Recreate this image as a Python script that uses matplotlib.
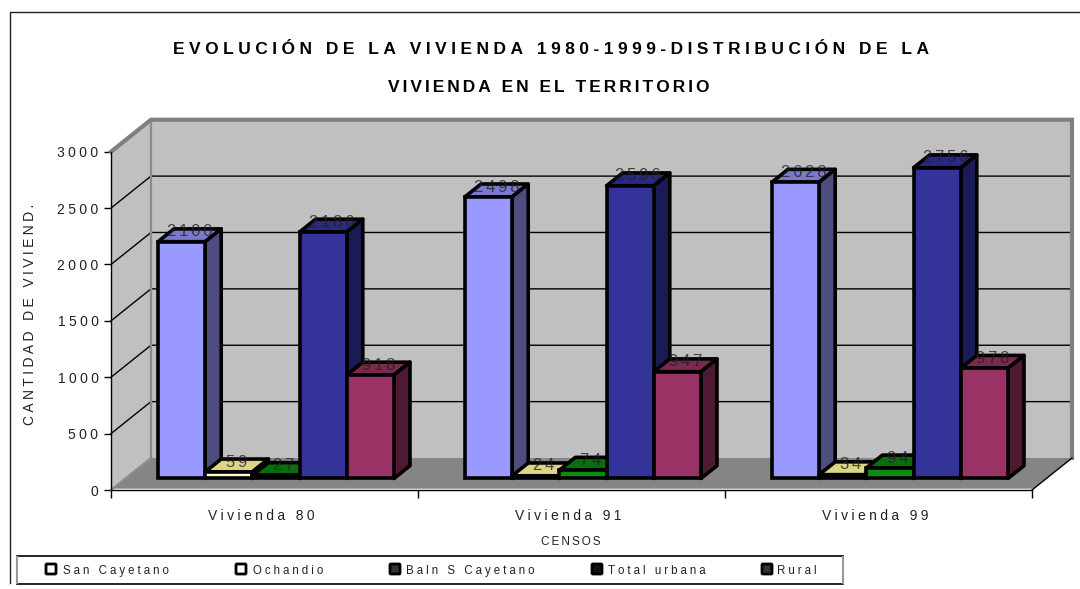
import matplotlib
matplotlib.use('Agg')
import matplotlib.pyplot as plt
from matplotlib.patches import Polygon, FancyBboxPatch

plt.rcParams['font.family'] = ['Liberation Sans', 'DejaVu Sans']

titulo1 = 'EVOLUCIÓN DE LA VIVIENDA 1980-1999-DISTRIBUCIÓN DE LA'
titulo2 = 'VIVIENDA EN EL TERRITORIO'
grupos = ['Vivienda 80', 'Vivienda 91', 'Vivienda 99']
series = ['San Cayetano', 'Ochandio', 'Baln S Cayetano', 'Total urbana', 'Rural']
san_cayetano = [2100, 2498, 2628]
ochandio = [59, 24, 34]
balneario = [27, 74, 94]
total_urbana = [2186, 2596, 2756]
rural = [918, 947, 978]
valores = [san_cayetano, ochandio, balneario, total_urbana, rural]
yticks = [0, 500, 1000, 1500, 2000, 2500, 3000]

col_frente = ['#9999ff', '#ffffcc', '#0c8a12', '#333399', '#993366']
col_arriba = ['#7a7acc', '#dcd684', '#0a6e0e', '#29297f', '#7a2950']
col_lado = ['#4d4d80', '#66664f', '#064508', '#1a1a55', '#4d1933']
col_leyenda = ['white', 'white', '#333333', '#111111', '#333333']

# profundidad 3D en unidades de datos
DX = 40 / 307
DY = 32 / 0.1128
D0, D1 = 0.36, 0.76
GAP = 32.6 / 307
ANCHO = 47.2 / 307


def track(s, n=1):
    # letras separadas como en el original
    return ('\u200a' * n).join(s)


def p(x, v, d):
    return (x + d * DX, v + d * DY)


fig = plt.figure(figsize=(10.8, 5.89), dpi=100, facecolor='white')
ax = fig.add_axes([111 / 1080, 99 / 589, 921 / 1080, 338.3 / 589])
ax.set_xlim(0, 3)
ax.set_ylim(0, 3000)
ax.patch.set_visible(False)
for s in ['top', 'right']:
    ax.spines[s].set_visible(False)
ax.spines['left'].set_linewidth(1.0)
ax.spines['bottom'].set_linewidth(1.0)

# paredes y piso
ax.add_patch(Polygon([p(0, 0, 0), p(0, 0, 1), p(0, 3000, 1), p(0, 3000, 0)], fc='#c0c0c0', ec='none', clip_on=False, zorder=1))
ax.add_patch(Polygon([p(0, 0, 1), p(3, 0, 1), p(3, 3000, 1), p(0, 3000, 1)], fc='#c0c0c0', ec='none', clip_on=False, zorder=1))
ax.add_patch(Polygon([p(0, 0, 0.04), p(3, 0, 0.04), p(3, 0, 1), p(0, 0, 1)], fc='#858585', ec='none', clip_on=False, zorder=1))

for v in yticks[1:-1]:
    xs, ys = zip(p(0, v, 0), p(0, v, 1), p(3, v, 1))
    ax.plot(xs, ys, color='black', lw=1.0, clip_on=False, zorder=2)
xs, ys = zip(p(0, 0, 0), p(0, 0, 1), p(0, 3000, 1))
ax.plot(xs, ys, color='#8c8c8c', lw=1.6, clip_on=False, zorder=2)
xs, ys = zip(p(0, 3000, 0), p(0, 3000, 1), p(3, 3000, 1), p(3, 0, 1))
ax.plot(xs, ys, color='#808080', lw=3, clip_on=False, zorder=2, solid_joinstyle='miter')
xs, ys = zip(p(3, 0, 1), p(3, 0, 0))
ax.plot(xs, ys, color='black', lw=1.0, clip_on=False, zorder=2)

# barras
for g in range(len(grupos)):
    for j in range(len(series)):
        v = valores[j][g]
        x0 = g + GAP + j * ANCHO
        x1 = x0 + ANCHO
        z = 3 + g * 5 + j
        ec = dict(ec='black', lw=2.6, joinstyle='round', clip_on=False, zorder=z)
        ax.add_patch(Polygon([p(x0, v, D0), p(x1, v, D0), p(x1, v, D1), p(x0, v, D1)], fc=col_arriba[j], **ec))
        ax.add_patch(Polygon([p(x1, 0, D0), p(x1, 0, D1), p(x1, v, D1), p(x1, v, D0)], fc=col_lado[j], **ec))
        ax.bar(x0 + D0 * DX, v, width=ANCHO, bottom=D0 * DY, align='edge', color=col_frente[j],
               edgecolor='black', linewidth=2.6, clip_on=False, zorder=z)

for g in range(len(grupos)):
    for j in range(len(series)):
        v = valores[j][g]
        xc, yc = p(g + GAP + (j + 0.5) * ANCHO, v, 0.5 * (D0 + D1))
        ax.text(xc, yc + 30, track(str(v), 2), ha='center', va='center', fontsize=12,
                color='#222222', zorder=40, clip_on=False, alpha=0.8)

# ejes
ax.set_yticks(yticks)
ax.set_yticklabels([track(str(v), 3) for v in yticks], fontsize=10, color='#222222')
ax.tick_params(axis='y', length=5, width=1.0, pad=4)
ax.set_xticks([0, 1, 2, 3])
ax.set_xticklabels([])
ax.tick_params(axis='x', which='major', length=6, width=1.0)
ax.set_xticks([0.49, 1.49, 2.49], minor=True)
ax.set_xticklabels([track(s, 3) for s in grupos], minor=True, fontsize=10, color='#222222')
ax.tick_params(axis='x', which='minor', length=0, pad=14)

# capa en pixeles para marco, titulo y leyenda
ov = fig.add_axes([0, 0, 1, 1], zorder=-1)
ov.set_xlim(0, 1080)
ov.set_ylim(589, 0)
ov.axis('off')
ov.plot([10, 10, 1080], [583, 12, 12], color='#222222', lw=1.0)
ov.text(551, 49, track(titulo1, 3), ha='center', va='center', fontsize=12.5, fontweight='bold')
ov.text(549, 87, track(titulo2, 2), ha='center', va='center', fontsize=12.5, fontweight='bold')
ov.text(30, 314, track('CANTIDAD DE VIVIEND.', 3), rotation=90, ha='center', va='center', fontsize=10, color='#222222')
ov.text(571, 542, track('CENSOS', 2), ha='center', va='center', fontsize=8.5, color='#222222')

ov.plot([17, 843], [556, 556], color='black', lw=1.2)
ov.plot([17, 843], [584, 584], color='black', lw=1.2)
ov.plot([17, 17], [557, 583], color='#999999', lw=1.5)
ov.plot([843, 843], [557, 583], color='#999999', lw=1.5)
ley_x = [51, 241, 395, 597, 767]
ley_t = [63, 253, 406, 608, 777]
for j, s in enumerate(series):
    ov.add_patch(FancyBboxPatch((ley_x[j] - 4, 565), 8, 8, boxstyle='round,pad=1', fc=col_leyenda[j], ec='black', lw=2.0))
    ov.text(ley_t[j], 571, track(s, 3), ha='left', va='center', fontsize=8.3, color='#222222')

fig.savefig('out.png', dpi=100)
